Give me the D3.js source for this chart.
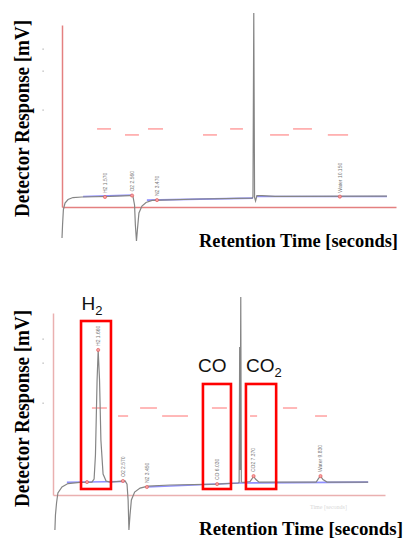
<!DOCTYPE html>
<html>
<head>
<meta charset="utf-8">
<script src="https://cdn.jsdelivr.net/npm/d3@7"></script>
<style>
  html, body { margin: 0; padding: 0; background: #fff; }
  svg { display: block; }
</style>
</head>
<body>
<div id="chart"></div>
<script>
// time in minutes, response in mV
var topTrace = [
  [0.00, -17.0], [0.02, -9.9], [0.05, -1.6], [0.11, 2.2], [0.22, 4.1], [0.40, 5.2],
  [0.73, 5.5], [1.75, 5.8], [2.48, 6.3], [2.59, 6.0], [2.65, 1.1], [2.68, -9.9],
  [2.72, -18.7], [2.76, -11.5], [2.81, -3.3], [2.92, 0.5], [3.07, 2.5], [3.29, 3.6],
  [3.58, 3.8], [5.04, 4.4], [6.94, 4.9], [6.975, 5.5], [7.005, 106.6], [7.034, 5.2],
  [7.07, 3.3], [7.12, 6.3], [7.30, 6.3], [7.78, 5.8], [11.87, 6.0]
];
var topBaseline = [
  [[0.77, 5.8], [2.59, 6.6]],
  [[3.10, 3.8], [6.98, 4.9]],
  [[7.09, 5.8], [11.87, 5.8]]
];
var topPeaks = [
  {name: "H2", time: 1.57, mv: 5.5},
  {name: "O2", time: 2.56, mv: 6.3},
  {name: "N2", time: 3.47, mv: 3.8},
  {name: "Water", time: 10.15, mv: 5.7}
];
var topEvents = [
  [1.28, 1.79, 42.9], [2.30, 2.81, 39.6], [3.14, 3.69, 42.9], [5.15, 5.66, 39.6],
  [6.14, 6.61, 42.9], [7.60, 8.29, 39.6], [8.44, 9.13, 42.9], [9.71, 10.45, 39.6]
];
var topTicks = [86.8, 74.7, 53.3];

var bottomTrace = [
  [0.07, -19.2], [0.09, -11.0], [0.13, -4.4], [0.18, 1.1], [0.33, 4.4], [0.55, 6.3],
  [0.99, 6.9], [1.43, 7.1], [1.51, 8.8], [1.56, 22.0], [1.62, 63.2], [1.66, 79.7],
  [1.71, 63.2], [1.76, 30.2], [1.84, 11.5], [1.95, 7.7], [2.09, 7.1], [2.65, 7.7],
  [2.72, 6.0], [2.76, -2.7], [2.79, -19.2], [2.83, -11.0], [2.88, -2.7], [3.00, 1.6],
  [3.20, 3.8], [3.49, 4.9], [4.30, 5.5], [6.03, 6.0], [6.80, 6.6], [6.84, 6.9],
  [6.86, 81.3], [6.875, 13.7], [6.90, 108.8], [6.92, 7.1], [7.02, 6.9], [7.24, 7.4],
  [7.31, 8.8], [7.37, 10.4], [7.44, 8.8], [7.57, 7.1], [9.67, 7.1], [9.76, 9.1],
  [9.83, 10.4], [9.92, 8.5], [10.07, 7.1], [11.58, 7.1]
];
var bottomBaseline = [
  [[0.51, 7.0], [2.65, 7.4]],
  [[3.45, 4.4], [6.87, 6.6], [11.58, 7.1]]
];
var bottomPeaks = [
  {name: "", time: 1.25, mv: 7.1},
  {name: "H2", time: 1.66, mv: 79.7},
  {name: "O2", time: 2.57, mv: 7.7},
  {name: "N2", time: 3.45, mv: 4.4},
  {name: "CO", time: 6.03, mv: 6.0},
  {name: "CO2", time: 7.37, mv: 10.4},
  {name: "Water", time: 9.83, mv: 10.4}
];
var bottomEvents = [
  [1.43, 1.98, 47.8], [2.39, 2.76, 43.4], [3.20, 3.82, 47.8], [4.01, 4.96, 43.4],
  [5.84, 6.39, 47.8], [7.24, 7.50, 43.4], [8.45, 8.97, 47.8], [9.63, 10.07, 43.4]
];
var bottomTicks = [85.7, 72.5, 50.5];
// highlighted peaks: [label, subscript, t0, t1, mv top, mv bottom]
var boxes = [
  ["H", "2", 1.03, 2.13, 95.6, 3.3],
  ["CO", "", 5.51, 6.54, 61.0, 3.3],
  ["CO", "2", 7.09, 8.20, 61.0, 3.3]
];

var yTitle = "Detector Response [mV]";
var xTitle = "Retention Time [seconds]";
var timeDomain = [0, 12.2];
var mvDomain = [0, 100];

var W = 407, H = 539;
var svg = d3.select("#chart").append("svg")
  .attr("width", W)
  .attr("height", H);

var drawPanel = function(p){
  var x = d3.scaleLinear().domain(timeDomain).range([p.left, p.right]);
  var y = d3.scaleLinear().domain(mvDomain).range([p.bottom, p.top]);
  var g = svg.append("g");

  // axes: only the domain lines are visible
  g.append("g")
    .attr("transform", "translate(0," + y(0) + ")")
    .call(d3.axisBottom(x).tickValues([]).tickSizeOuter(0));
  g.append("g")
    .attr("transform", "translate(" + x(0) + ",0)")
    .call(d3.axisLeft(y).tickValues([]).tickSizeOuter(0));
  g.selectAll(".domain").attr("stroke", p.axisColor).attr("stroke-width", 1.5);

  // faint leftovers of tick labels
  g.selectAll(".tk").data(p.ticks).enter().append("rect")
    .attr("x", 42.5).attr("y", function(d){ return y(d) - 0.5; })
    .attr("width", 1.2).attr("height", 1.2)
    .attr("fill", "#aaa");

  // event marks
  g.selectAll(".ev").data(p.events).enter().append("line")
    .attr("x1", function(d){ return x(d[0]); })
    .attr("x2", function(d){ return x(d[1]); })
    .attr("y1", function(d){ return y(d[2]); })
    .attr("y2", function(d){ return y(d[2]); })
    .attr("stroke", "#ff9a9a")
    .attr("stroke-width", 1.4);

  var line = d3.line()
    .x(function(d){ return x(d[0]); })
    .y(function(d){ return y(d[1]); });

  g.selectAll(".bl").data(p.baseline).enter().append("path")
    .attr("d", line)
    .attr("fill", "none")
    .attr("stroke", "#8f8fff")
    .attr("stroke-width", 1.6);

  g.append("path")
    .datum(p.trace)
    .attr("d", line)
    .attr("fill", "none")
    .attr("stroke", "#858585")
    .attr("stroke-width", 1.2);

  // peak marks and their tiny vertical labels
  var pk = g.selectAll(".pk").data(p.peaks).enter().append("g");
  pk.append("circle")
    .attr("cx", function(d){ return x(d.time); })
    .attr("cy", function(d){ return y(d.mv); })
    .attr("r", 1.6)
    .attr("fill", "#f7a0a0")
    .attr("stroke", "#e05050")
    .attr("stroke-width", 0.6);
  pk.filter(function(d){ return d.name !== ""; })
    .append("text")
    .attr("transform", function(d){
      return "translate(" + (x(d.time) + 1.8) + "," + (y(d.mv) - 4) + ") rotate(-90)";
    })
    .text(function(d){ return d.name + " " + d.time.toFixed(3); })
    .attr("fill", "#777")
    .style("font-family", "Liberation Sans, Arial, sans-serif")
    .style("font-size", "5px");

  // titles
  g.append("text")
    .attr("transform", "translate(28.5," + p.yTitleBottom + ") rotate(-90)")
    .attr("textLength", 197)
    .attr("lengthAdjust", "spacingAndGlyphs")
    .text(yTitle)
    .attr("fill", "#000")
    .style("font-family", "Liberation Serif, Times New Roman, serif")
    .style("font-weight", "bold")
    .style("font-size", "21px");

  g.append("text")
    .attr("x", 199)
    .attr("y", p.xTitleY)
    .attr("textLength", p.xTitleW)
    .attr("lengthAdjust", "spacingAndGlyphs")
    .text(xTitle)
    .attr("fill", "#000")
    .style("font-family", "Liberation Serif, Times New Roman, serif")
    .style("font-weight", "bold")
    .style("font-size", "19px");

  return {x: x, y: y, g: g};
};

drawPanel({
  left: 62, right: 396, top: 25, bottom: 207,
  axisColor: "#e48080",
  trace: topTrace, baseline: topBaseline, peaks: topPeaks,
  events: topEvents, ticks: topTicks,
  yTitleBottom: 217, xTitleY: 247, xTitleW: 199
});

var bot = drawPanel({
  left: 53, right: 385, top: 313, bottom: 495,
  axisColor: "#eab0b0",
  trace: bottomTrace, baseline: bottomBaseline, peaks: bottomPeaks,
  events: bottomEvents, ticks: bottomTicks,
  yTitleBottom: 507, xTitleY: 534.5, xTitleW: 204
});

// red boxes round the peaks of interest
var labelDx = [0.5, -5, 0];
var bx = bot.g.selectAll(".box").data(boxes).enter().append("g");
bx.append("rect")
  .attr("x", function(d){ return bot.x(d[2]); })
  .attr("y", function(d){ return bot.y(d[4]); })
  .attr("width", function(d){ return bot.x(d[3]) - bot.x(d[2]); })
  .attr("height", function(d){ return bot.y(d[5]) - bot.y(d[4]); })
  .attr("fill", "none")
  .attr("stroke", "#ff0000")
  .attr("stroke-width", 2.6);
var lbl = bx.append("text")
  .attr("x", function(d, i){ return bot.x(d[2]) + labelDx[i]; })
  .attr("y", function(d){ return bot.y(d[4]) - 11.5; })
  .attr("fill", "#111")
  .style("font-family", "Liberation Sans, Arial, sans-serif")
  .style("font-size", "19px");
lbl.append("tspan").text(function(d){ return d[0]; });
lbl.append("tspan")
  .attr("dy", 5)
  .style("font-size", "13px")
  .text(function(d){ return d[1]; });

// smudge of an older caption under the lower axis
svg.append("text")
  .attr("x", 310).attr("y", 509)
  .text("Time [seconds]")
  .attr("fill", "#d8d8d8")
  .style("font-family", "Liberation Serif, serif")
  .style("font-size", "6px");
</script>
</body>
</html>
